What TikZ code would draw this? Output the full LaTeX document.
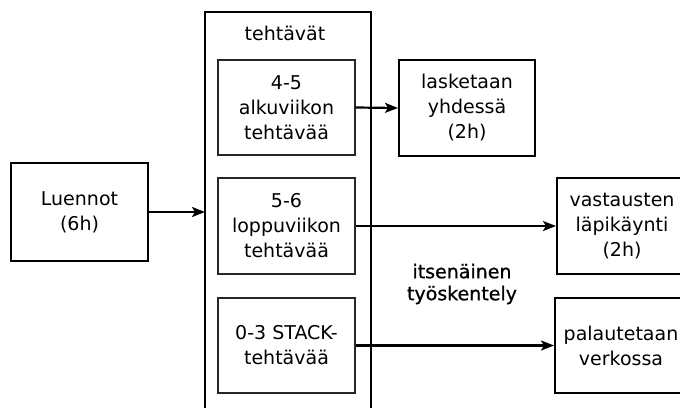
\documentclass[tikz,border=0pt]{standalone}
\usepackage{fontspec}
\setmainfont{DejaVu Sans}
\newfontfamily\heavyfont{DejaVu Sans}[FakeBold=0.8]
\usetikzlibrary{arrows.meta}
\begin{document}
\begin{tikzpicture}[x=1pt,y=1pt,
  box/.style={draw=black,line width=2pt,rectangle,inner sep=0pt,align=center,
    font=\fontsize{19}{25}\selectfont},
  inbox/.style={box,line width=1.4pt,draw=black!85},
  arr/.style={draw=black,line width=2.2pt,-{Stealth[length=13pt,width=10pt,inset=3pt]}},
  lbl/.style={inner sep=0pt,align=center,font=\fontsize{19}{25}\selectfont}]
\useasboundingbox (0,0) rectangle (680,-407);
\clip (0,0) rectangle (680,-407);
% outer "tehtävät" frame
\draw[line width=2.4pt] (205,-420) -- (205,-12) -- (371,-12) -- (371,-420);
\node[lbl] (teht) at (285,-33) {tehtävät};
\coordinate (frameL) at (205,-212);
% nodes
\node[box,line width=2.3pt,minimum width=137pt,minimum height=98pt] (luen) at (79.5,-212) {Luennot\\(6h)};
\node[inbox,minimum width=137pt,minimum height=95pt] (t1) at (286.5,-107.5) {4-5\\alkuviikon\\tehtävää};
\node[inbox,minimum width=137pt,minimum height=96pt] (t2) at (286.5,-226) {5-6\\loppuviikon\\tehtävää};
\node[inbox,minimum width=137pt,minimum height=95pt] (t3) at (286.5,-345.5) {0-3 STACK-\\tehtävää};
\node[box,minimum width=136pt,minimum height=96pt] (lask) at (467,-108) {lasketaan\\yhdessä\\(2h)};
\node[box,minimum width=130pt,minimum height=96pt,anchor=west] (vast) at (556,-226) {vastausten\\läpikäynti\\(2h)};
\node[box,minimum width=132pt,minimum height=95pt,anchor=west] (pal) at (554,-345.5) {palautetaan\\verkossa};
\node[inner sep=0pt,align=center,font=\heavyfont\fontsize{19}{22}\selectfont] (its) at (462,-284) {itsenäinen\\työskentely};
% connectors
\draw[arr] (luen.east) -- (frameL);
\draw[arr] (t1.east) -- (lask.west);
\draw[arr] (t2.east) -- (vast.west);
\draw[arr] (t3.east) -- (pal.west);
\end{tikzpicture}
\end{document}
